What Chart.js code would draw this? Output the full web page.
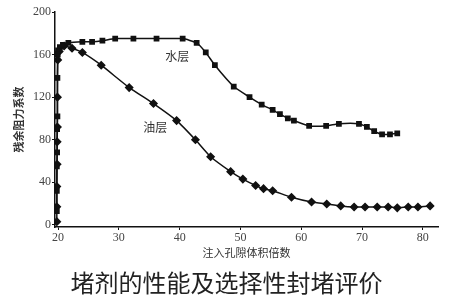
<!DOCTYPE html>
<html>
<head>
<meta charset="utf-8">
<script src="https://cdn.jsdelivr.net/npm/chart.js@4.4.1/dist/chart.umd.min.js"></script>
<style>
  body { margin: 0; background: #fff; }
  #wrap { position: relative; width: 453px; height: 305px; }
  #myChart { position: absolute; left: 0; top: 0; }
  #caption {
    position: absolute; left: 0; top: 265px; width: 453px; text-align: center;
    font-family: "Noto Sans CJK SC", sans-serif; font-size: 24px; line-height: 34px; color: #222;
  }
</style>
</head>
<body>
<div id="wrap">
  <canvas id="myChart" width="453" height="305"></canvas>
  <div id="caption">堵剂的性能及选择性封堵评价</div>
</div>
<script>
var xTicks = [20, 30, 40, 50, 60, 70, 80];
var yTicks = [0, 40, 80, 120, 160, 200];

// 水层
var waterX = [19.8, 19.8, 19.8, 19.85, 19.85, 19.9, 19.9, 19.95, 20, 20.3, 20.8, 21.7, 24, 25.6, 27.3, 29.4, 32.4, 36.2, 40.5,
  42.8, 44.3, 45.8, 48.9, 51.5, 53.5, 55.3, 56.5, 57.8, 58.8, 61.3, 64.1, 66.2, 69.5, 70.8, 72, 73.3, 74.6, 75.8];
var waterY = [13, 32, 55, 68, 90, 102, 138, 160, 164, 167, 169, 171, 172, 172, 173, 175, 175, 175, 175,
  171, 162, 150, 130, 120, 113, 108, 104, 100, 98, 93, 93, 95, 95, 92, 88, 85, 85, 86];

// 油层
var oilX = [19.8, 19.8, 19.8, 19.85, 19.85, 19.9, 19.9, 19.95, 20.2, 21, 22.3, 24, 27.1, 31.7, 35.7, 39.5, 42.6, 45.1, 48.4,
  50.4, 52.5, 53.8, 55.3, 58.4, 61.7, 64.2, 66.5, 68.7, 70.5, 72.5, 74.3, 75.8, 77.6, 79.2, 81.2];
var oilY = [3, 17, 36, 57, 78, 92, 120, 155, 163, 168, 166, 162, 150, 129, 114, 98, 80, 64, 50,
  43, 37, 34, 32, 26, 21.5, 19.6, 17.8, 16.8, 16.8, 16.8, 16.8, 16, 16.8, 16.8, 17.8];

var seriesNames = ['水层', '油层'];
var nameX = [39.6, 36];
var nameY = [158, 92];

function toPoints(xs, ys) {
  var pts = [];
  for (var i = 0; i < xs.length; i++) {
    pts.push({ x: xs[i], y: ys[i] });
  }
  return pts;
}

var tickFont = { family: '"Liberation Serif", serif', size: 12 };

// 曲线旁边的文字
var seriesLabels = {
  id: 'seriesLabels',
  afterDatasetsDraw: function(chart) {
    var ctx = chart.ctx;
    var sx = chart.scales.x, sy = chart.scales.y;
    ctx.save();
    ctx.font = '12px "Noto Sans CJK SC", sans-serif';
    ctx.fillStyle = '#333';
    ctx.textAlign = 'center';
    ctx.textBaseline = 'middle';
    for (var i = 0; i < seriesNames.length; i++) {
      ctx.fillText(seriesNames[i], sx.getPixelForValue(nameX[i]), sy.getPixelForValue(nameY[i]));
    }
    ctx.restore();
  }
};

var ctx = document.getElementById('myChart');
var chart = new Chart(ctx, {
  type: 'line',
  data: {
    datasets: [{
      label: seriesNames[0],
      data: toPoints(waterX, waterY),
      borderColor: '#111',
      backgroundColor: '#111',
      borderWidth: 1.5,
      pointStyle: 'rect',
      pointRadius: 3,
      tension: 0.15
    }, {
      label: seriesNames[1],
      data: toPoints(oilX, oilY),
      borderColor: '#111',
      backgroundColor: '#111',
      borderWidth: 1.5,
      pointStyle: 'rectRot',
      pointRadius: 3.5,
      tension: 0.15
    }]
  },
  options: {
    responsive: false,
    animation: false,
    layout: { padding: { top: 12, right: 15, bottom: 46, left: 12 } },
    plugins: { legend: { display: false }, tooltip: { enabled: false } },
    scales: {
      x: {
        type: 'linear',
        min: 19.5,
        max: 82.5,
        afterBuildTicks: function(scale) {
          scale.ticks = xTicks.map(function(v) { return { value: v }; });
        },
        afterFit: function(scale) { scale.height = 32; },
        grid: { drawOnChartArea: false, drawTicks: true, tickLength: 3, color: '#111' },
        border: { color: '#111', width: 1.5 },
        ticks: { color: '#444', font: tickFont, padding: 1 },
        title: {
          display: true,
          text: '注入孔隙体积倍数',
          color: '#333',
          font: { family: '"Noto Sans CJK SC", sans-serif', size: 11 },
          padding: { top: 0, bottom: 0 }
        }
      },
      y: {
        min: -2,
        max: 200,
        afterBuildTicks: function(scale) {
          scale.ticks = yTicks.map(function(v) { return { value: v }; });
        },
        afterFit: function(scale) { scale.width = 43; },
        grid: { drawOnChartArea: false, drawTicks: true, tickLength: 3, color: '#111' },
        border: { color: '#111', width: 1.5 },
        ticks: { color: '#444', font: tickFont, padding: 1 },
        title: {
          display: true,
          text: '残余阻力系数',
          color: '#333',
          font: { family: '"Noto Sans CJK SC", sans-serif', size: 11, weight: 'bold' },
          padding: { top: 0, bottom: 0 }
        }
      }
    }
  },
  plugins: [seriesLabels]
});
</script>
</body>
</html>
